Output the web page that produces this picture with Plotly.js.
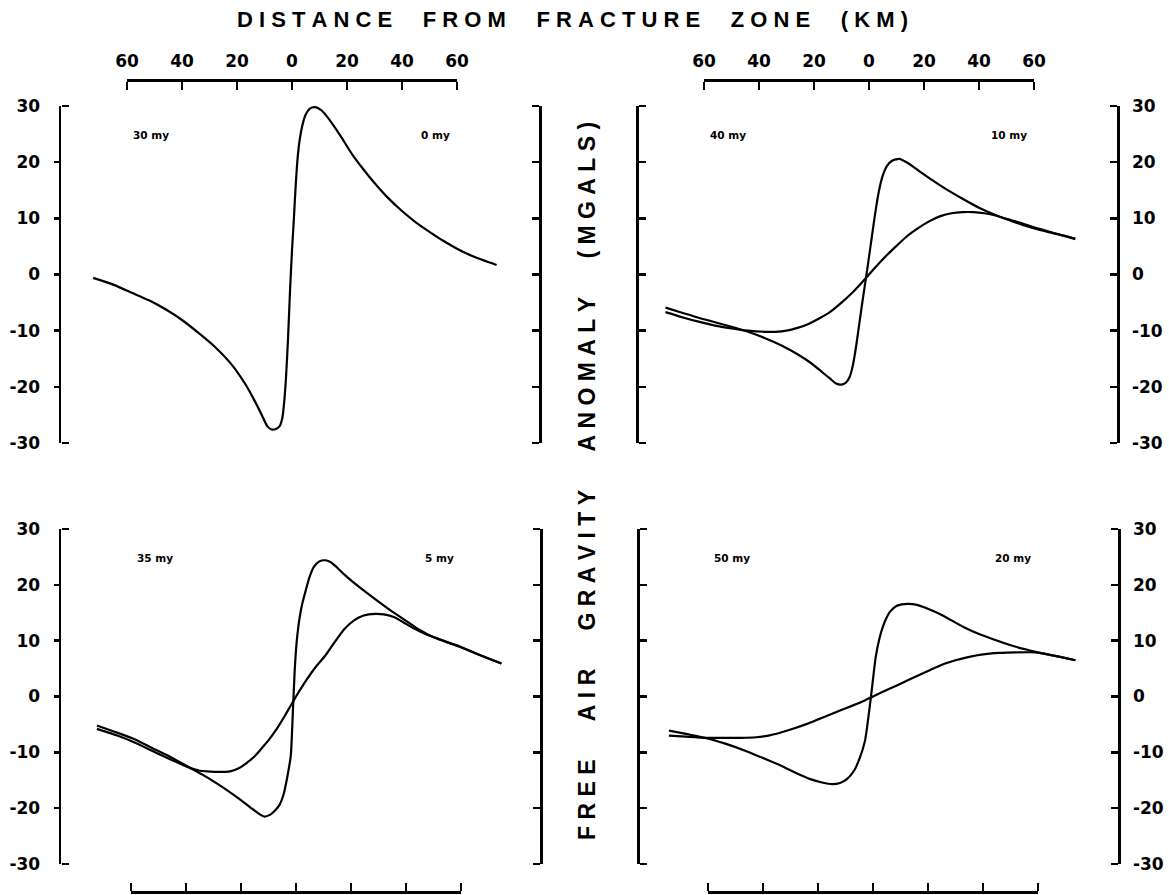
<!DOCTYPE html>
<html><head><meta charset="utf-8">
<script src="https://cdn.plot.ly/plotly-3.0.1.min.js"></script>
<style>html,body{margin:0;padding:0;background:#fff}#chart{width:1169px;height:895px}</style>
</head><body><div id="chart"></div>
<script>
// ---------------- data ----------------
// distance from fracture zone in km (negative = older side), anomaly in mGal
const tlKm  = [-72.3,-65,-58,-52,-46,-40,-34,-28,-22,-17,-14,-11,-9,-7.4,-5.8,-4.5,-3.5,-2.8,-2.2,-1.5,-0.7,0,0.6,1.3,2,2.8,3.7,4.9,6.4,8.4,10.5,12.6,15,18,22,26,30,35,40,45,50,55,60,66,74.4];
const tlVal = [-0.6,-1.8,-3.3,-4.6,-6.2,-8.1,-10.4,-12.9,-16.0,-19.5,-22.1,-25.0,-27.0,-27.6,-27.5,-27.0,-25.5,-22.5,-18.5,-12.0,-2.7,4.3,9.2,15.5,20.5,24.0,26.4,28.4,29.5,29.8,29.3,28.2,26.6,24.4,21.3,18.7,16.3,13.6,11.3,9.3,7.6,6.0,4.6,3.2,1.7];

const trSharpKm  = [-74,-68,-62,-56,-50,-44,-38,-32,-26,-21,-17,-14,-12,-10,-8.5,-7,-5.8,-4.6,-3.4,-2.2,-1,0.2,1.4,2.6,3.8,5,6.5,8.5,11,14,18,23,28,34,40,46,52,58,64,70,75];
const trSharpVal = [-5.9,-6.8,-7.7,-8.5,-9.3,-10.2,-11.3,-12.6,-14.2,-15.8,-17.4,-18.6,-19.4,-19.6,-19.3,-18.2,-16.0,-12.5,-8.3,-4.2,-0.3,3.8,8.0,12.0,15.3,17.6,19.3,20.3,20.6,19.9,18.5,16.8,15.2,13.5,11.9,10.6,9.5,8.5,7.7,7.0,6.3];
const trSmoothKm  = [-74,-68,-62,-56,-50,-44,-38,-34,-30,-26,-22,-18,-14,-10,-6,-2,2,6,10,14,18,22,26,30,34,38,42,46,50,55,60,65,70,75];
const trSmoothVal = [-6.7,-7.6,-8.4,-9.1,-9.6,-10.0,-10.2,-10.2,-10.0,-9.5,-8.8,-7.8,-6.6,-5.0,-3.2,-1.1,1.1,3.2,5.1,6.9,8.3,9.5,10.4,10.9,11.1,11.1,10.9,10.5,9.9,9.2,8.4,7.7,7.0,6.4];

const blSharpKm  = [-72.4,-66,-58.9,-52,-45,-39.5,-34,-29.7,-25,-19.9,-16,-13.5,-11.6,-9.5,-7.8,-6.1,-4.5,-3.2,-1.9,-1.2,-0.5,0.2,0.9,2,3.7,5,6.5,8.5,10.6,12.5,14.5,17,21,24.6,30,35,39.9,45,50,55,59.4,65,70,74.7];
const blSharpVal = [-5.2,-6.3,-7.6,-9.3,-11.0,-12.5,-14.0,-15.3,-16.8,-18.6,-20.1,-21.0,-21.5,-21.2,-20.5,-19.5,-17.5,-14.5,-10.6,-3.5,4.4,9.5,12.7,16.0,19.3,21.5,23.2,24.2,24.4,24.1,23.3,22.1,20.4,19.0,17.0,15.2,13.6,11.9,10.6,9.7,9.0,7.8,6.8,5.9];
const blSmoothKm  = [-72.4,-65,-58.9,-52,-45,-39.5,-35,-32.5,-28,-24,-21,-18.5,-15,-12,-10.1,-7,-4,-2,0,2,4,7,10.6,14,17.6,21,24.6,28.8,32,35.8,39,42.8,47,52,59.4,65,70,74.7];
const blSmoothVal = [-5.8,-7.0,-8.2,-9.8,-11.4,-12.6,-13.3,-13.4,-13.5,-13.4,-12.9,-12.1,-10.7,-9.0,-7.9,-5.8,-3.4,-1.7,0,1.6,3.1,5.2,7.3,9.7,12.1,13.6,14.5,14.8,14.7,14.2,13.3,12.2,11.2,10.3,8.9,7.8,6.8,5.9];

const brSharpKm  = [-74.2,-68,-61,-54,-46.5,-40,-33.4,-28,-22.8,-18.5,-14.9,-12,-9.5,-6.9,-4.8,-2.9,-0.9,1.0,2.3,3.6,5,6.2,8.5,10.5,12.9,16,19.5,25,32.7,39,45.8,52,59.1,63,68,73.6];
const brSharpVal = [-6.1,-6.7,-7.4,-8.4,-9.7,-11.0,-12.4,-13.7,-14.8,-15.4,-15.7,-15.5,-14.8,-13.3,-11.0,-7.9,-0.7,7.1,10.3,12.5,14.2,15.2,16.2,16.5,16.6,16.4,15.8,14.6,12.5,11.1,9.9,8.9,8.0,7.6,7.1,6.5];
const brSmoothKm  = [-74.2,-68,-61,-54,-48,-42.5,-38,-33.2,-28,-24,-20,-16,-12,-6.8,-3,0,3,7,10,13,17,21,26.2,30,35,39.4,46,52,59.1,63,68,73.6];
const brSmoothVal = [-7.0,-7.2,-7.4,-7.4,-7.4,-7.3,-7.0,-6.4,-5.6,-4.9,-4.1,-3.3,-2.5,-1.5,-0.7,0,0.7,1.6,2.3,3.0,3.9,4.8,5.9,6.5,7.1,7.5,7.8,7.9,7.9,7.6,7.1,6.5];

const yTickVals = [-30,-20,-10,0,10,20,30];
const yTickText = ['-30','-20','-10','0','10','20','30'];
const yInnerVals = [-20,-10,0,10,20];
const yEndVals = [-30,30];
const xTickVals = [-60,-40,-20,0,20,40,60];
const xTickText = ['60','40','20','0','20','40','60'];
const leftAges  = ['30 my','40 my','35 my','50 my'];
const rightAges = ['0 my','10 my','5 my','20 my'];
const titleText  = 'DISTANCE FROM FRACTURE ZONE (KM)';
const yTitleText = 'FREE AIR GRAVITY ANOMALY (MGALS)';

// ---------------- geometry / style ----------------
const W = 1169, H = 895;
const pxPerKm = 2.75;
const panels = [
  {zero: 292, left: 61,  right: 540,  top: 106, bottom: 443, axisY: 80,  axisSide: 'top',    labelSide: 'left'},
  {zero: 869, left: 637, right: 1117, top: 106, bottom: 443, axisY: 80,  axisSide: 'top',    labelSide: 'right'},
  {zero: 296, left: 61,  right: 541,  top: 529, bottom: 864, axisY: 892, axisSide: 'bottom', labelSide: 'left'},
  {zero: 873, left: 638, right: 1118, top: 529, bottom: 864, axisY: 892, axisSide: 'bottom', labelSide: 'right'}
];
const series = [
  {p: 0, x: tlKm, y: tlVal},
  {p: 1, x: trSharpKm, y: trSharpVal},
  {p: 1, x: trSmoothKm, y: trSmoothVal},
  {p: 2, x: blSharpKm, y: blSharpVal},
  {p: 2, x: blSmoothKm, y: blSmoothVal},
  {p: 3, x: brSharpKm, y: brSharpVal},
  {p: 3, x: brSmoothKm, y: brSmoothVal}
];

const FONT = 'DejaVu Sans, Liberation Sans, sans-serif';
const TITLE_FONT = 'Liberation Sans, Arial, sans-serif';
const LW = 2.5, TL = 7;
const tickFont = {family: FONT, size: 17, color: '#000', weight: 'bold'};

function spaced(s, gap) {
  const NB = '\u00A0';
  return s.split(' ').map(w => w.split('').join(NB)).join(NB.repeat(gap));
}
const xn = k => (k === 1 ? 'x' : 'x' + k);
const yn = k => (k === 1 ? 'y' : 'y' + k);
const xk = k => (k === 1 ? 'xaxis' : 'xaxis' + k);
const yk = k => (k === 1 ? 'yaxis' : 'yaxis' + k);

const base = {showgrid: false, zeroline: false, fixedrange: true, linecolor: '#000', tickcolor: '#000',
              linewidth: LW, tickwidth: LW, tickfont: tickFont};

const layout = {
  width: W, height: H,
  margin: {l: 0, r: 0, t: 0, b: 0},
  paper_bgcolor: '#fff', plot_bgcolor: 'rgba(0,0,0,0)',
  showlegend: false,
  annotations: []
};
const traces = [];
const holder = (xa, ya) => traces.push({type: 'scatter', mode: 'lines', x: [], y: [], xaxis: xa, yaxis: ya, hoverinfo: 'skip'});

panels.forEach((P, i) => {
  const k = i + 1;
  const xr = xn(k), yr = yn(k);
  const isLeft = P.labelSide === 'left';
  // data x axis (hidden, sets the km scale)
  layout[xk(k)] = Object.assign({}, base, {
    domain: [P.left / W, P.right / W],
    range: [(P.left - P.zero) / pxPerKm, (P.right - P.zero) / pxPerKm],
    visible: false, anchor: yr
  });
  // labelled y axis (line + labels)
  layout[yk(k)] = Object.assign({}, base, {
    domain: [1 - P.bottom / H, 1 - P.top / H], range: [-30, 30], anchor: xr, side: P.labelSide,
    showline: true, ticks: '', tickvals: yTickVals, ticktext: yTickText,
    ticklabelstandoff: isLeft ? 15 : 9
  });
  // opposite bracket, ticks pointing into the panel
  const oppPx = isLeft ? P.right : P.left;
  layout[yk(k + 4)] = Object.assign({}, base, {
    overlaying: yr, anchor: 'free', position: oppPx / W, side: isLeft ? 'left' : 'right',
    range: [-30, 30], showline: true, ticks: 'outside', ticklen: TL, tickvals: yTickVals, showticklabels: false
  });
  holder(xr, yn(k + 4));
  const ownPx = isLeft ? P.left : P.right;
  if (isLeft) {
    // outward ticks on the labelled side
    layout[yk(k + 8)] = Object.assign({}, base, {
      overlaying: yr, anchor: 'free', position: ownPx / W, side: 'left', range: [-30, 30],
      showline: false, ticks: 'outside', ticklen: TL, tickvals: yInnerVals, showticklabels: false
    });
    // end caps pointing inward
    layout[yk(k + 12)] = Object.assign({}, base, {
      overlaying: yr, anchor: 'free', position: ownPx / W, side: 'right', range: [-30, 30],
      showline: false, ticks: 'outside', ticklen: TL, tickvals: yEndVals, showticklabels: false
    });
    holder(xr, yn(k + 12));
  } else {
    // inward ticks on the labelled right axis
    layout[yk(k + 8)] = Object.assign({}, base, {
      overlaying: yr, anchor: 'free', position: ownPx / W, side: 'left', range: [-30, 30],
      showline: false, ticks: 'outside', ticklen: TL, tickvals: yTickVals, showticklabels: false
    });
  }
  holder(xr, yn(k + 8));
  // distance axis line + ticks pointing toward the panel (only spans +/-60 km)
  const dDomain = [(P.zero - 60 * pxPerKm) / W, (P.zero + 60 * pxPerKm) / W];
  layout[xk(k + 4)] = Object.assign({}, base, {
    domain: dDomain, range: [-60, 60], anchor: 'free', position: 1 - P.axisY / H,
    side: P.axisSide === 'top' ? 'bottom' : 'top',
    showline: true, ticks: 'outside', ticklen: 8, tickvals: xTickVals, showticklabels: false
  });
  holder(xn(k + 4), yr);
  if (P.axisSide === 'top') {
    layout[xk(k + 8)] = Object.assign({}, base, {
      domain: dDomain, range: [-60, 60], anchor: 'free', position: 1 - P.axisY / H, side: 'top',
      showline: false, ticks: '', tickvals: xTickVals, ticktext: xTickText, ticklabelstandoff: 10
    });
    holder(xn(k + 8), yr);
  }
  // age labels
  const af = {family: FONT, size: 10.5, color: '#000', weight: 'bold'};
  layout.annotations.push({xref: xr, yref: yr, x: -58.5, y: 24.8, xanchor: 'left', yanchor: 'middle',
    text: leftAges[i], showarrow: false, font: af});
  layout.annotations.push({xref: xr, yref: yr, x: 58, y: 24.8, xanchor: 'right', yanchor: 'middle',
    text: rightAges[i], showarrow: false, font: af});
});

series.forEach(s => {
  const k = s.p + 1;
  traces.push({type: 'scatter', mode: 'lines', x: s.x, y: s.y, xaxis: xn(k), yaxis: yn(k),
    line: {color: '#000', width: 2.2, shape: 'spline', smoothing: 0.6}, hoverinfo: 'skip'});
});

layout.annotations.push({xref: 'paper', yref: 'paper', x: 572 / W, y: 1 - 19 / H, xanchor: 'center', yanchor: 'middle',
  text: spaced(titleText, 5), showarrow: false, font: {family: TITLE_FONT, size: 22, color: '#000', weight: 'bold'}});
layout.annotations.push({xref: 'paper', yref: 'paper', x: 587 / W, y: 1 - 481 / H, xanchor: 'center', yanchor: 'middle',
  textangle: -90, text: spaced(yTitleText, 6), showarrow: false,
  font: {family: TITLE_FONT, size: 23, color: '#000', weight: 'bold'}});

Plotly.newPlot('chart', traces, layout, {staticPlot: true, displayModeBar: false});
</script>
</body></html>
